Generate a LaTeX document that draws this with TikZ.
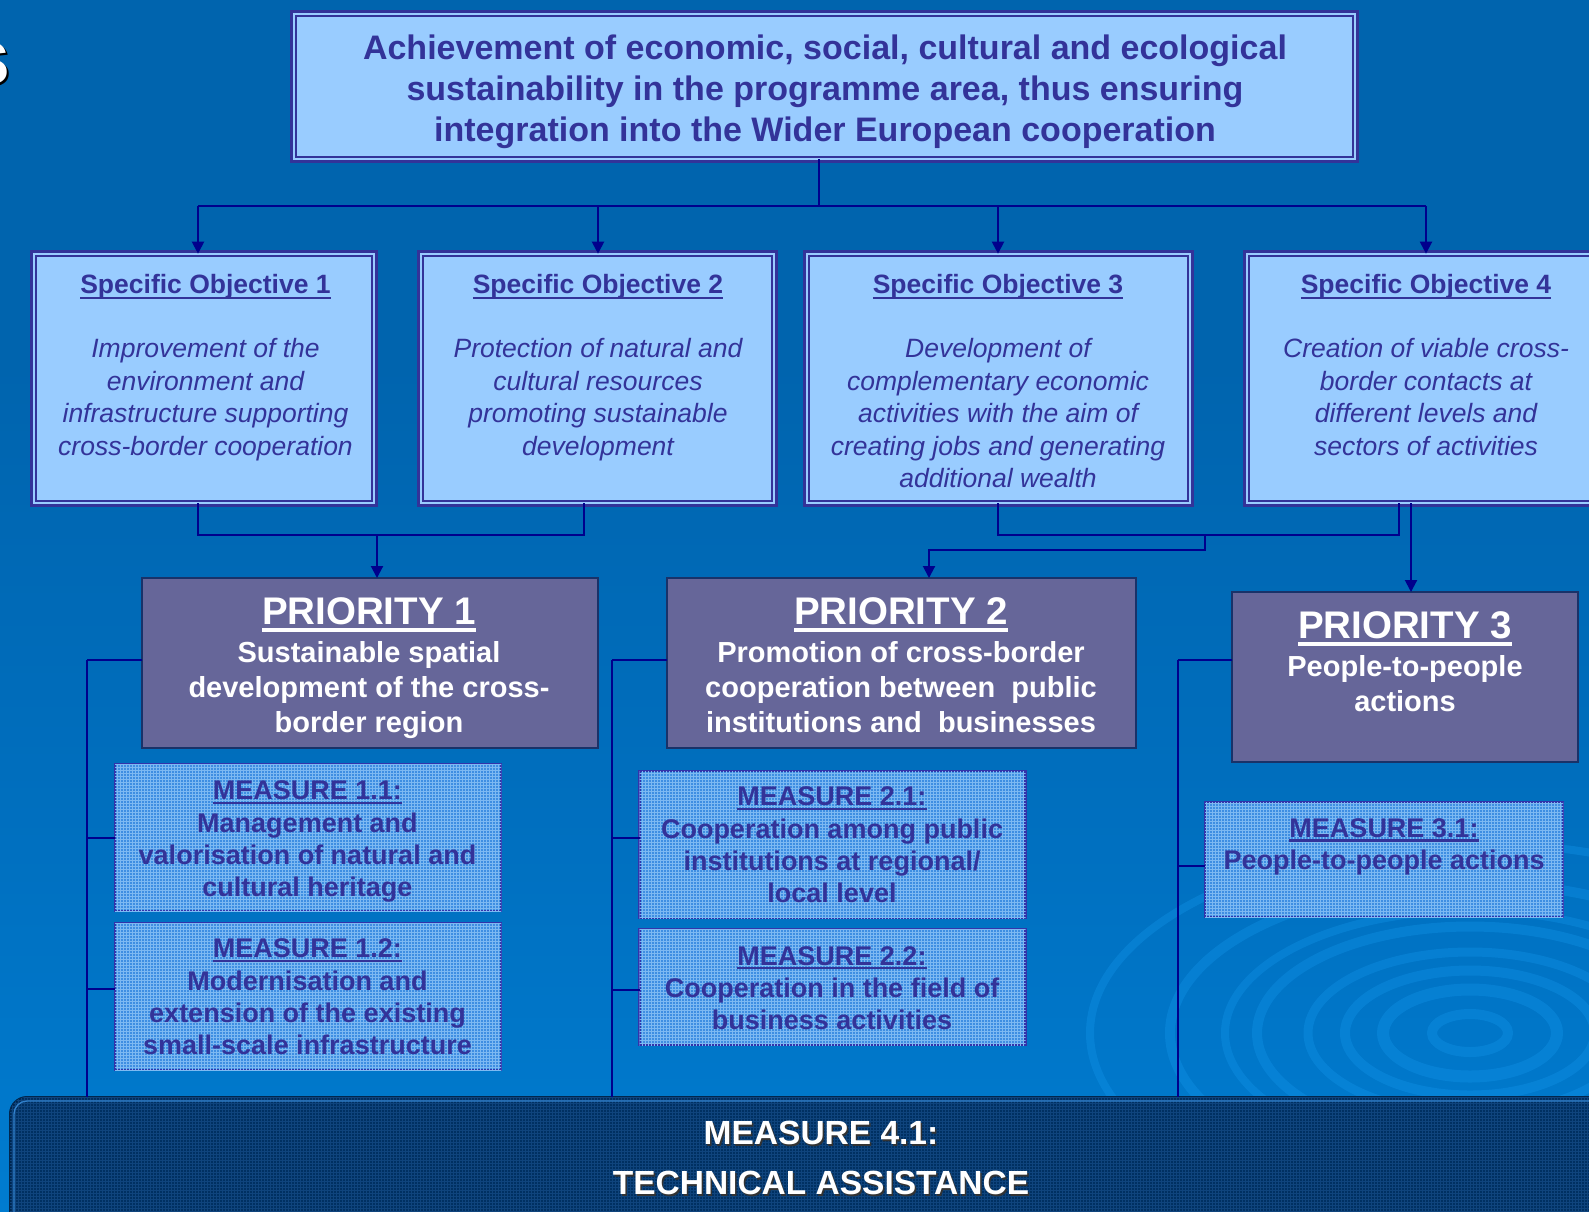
\documentclass[tikz,border=0pt]{standalone}
\usepackage{fontspec}
\setmainfont{Liberation Sans}
\usetikzlibrary{arrows.meta,patterns}
\definecolor{bgtop}{RGB}{0,100,174}
\definecolor{bgmid}{RGB}{0,112,192}
\definecolor{bgbot}{RGB}{0,134,222}
\definecolor{swirl}{RGB}{20,150,235}
\definecolor{bord}{RGB}{51,51,153}
\definecolor{sofill}{RGB}{153,204,255}
\definecolor{textc}{RGB}{51,51,153}
\definecolor{navy}{RGB}{0,0,140}
\definecolor{pfill}{RGB}{102,102,153}
\definecolor{pbord}{RGB}{25,50,105}
\definecolor{mfill}{RGB}{62,142,226}
\definecolor{mgrid}{RGB}{125,185,242}
\definecolor{mbord}{RGB}{51,51,170}
\definecolor{barfill}{RGB}{0,48,98}
\definecolor{bargrid}{RGB}{15,68,125}
\definecolor{barline}{RGB}{50,130,205}
\pgfdeclareverticalshading{bgshade}{100bp}{color(0bp)=(bgbot); color(12bp)=(bgbot); color(40bp)=(bgmid); color(60bp)=(bgtop); color(100bp)=(bgtop)}
\newcommand\myul[3]{\leavevmode\setbox0=\hbox{#3}\rlap{\vrule width\wd0 height -#1 depth \dimexpr#1+#2\relax}\box0}
\begin{document}
\begin{tikzpicture}[x=1pt,y=-1pt,
  sobox/.style={draw=bord, line width=2.6pt, double=sofill, double distance=2.2pt, fill=sofill, inner sep=0pt, outer sep=0pt, anchor=north west},
  pbox/.style={draw=pbord, line width=1.5pt, fill=pfill, inner sep=0pt, outer sep=0pt, anchor=north west},
  mbox/.style={draw=mbord, line width=2.2pt, fill=mfill, postaction={pattern=grid, pattern color=mgrid}, inner sep=0pt, outer sep=0pt, anchor=north west},
  toptext/.style={anchor=north, inner sep=0pt, align=center, text=textc, font=\fontsize{34}{41}\selectfont\bfseries},
  sotitle/.style={anchor=north, inner sep=0pt, align=center, text=textc, font=\fontsize{26.5}{32.4}\selectfont\bfseries},
  sobody/.style={anchor=north, inner sep=0pt, align=center, text=textc, font=\fontsize{26.5}{32.4}\selectfont\itshape},
  ptitle/.style={anchor=north, inner sep=0pt, align=center, text=white, font=\fontsize{38.5}{40}\selectfont\bfseries},
  pbody/.style={anchor=north, inner sep=0pt, align=center, text=white, font=\fontsize{29}{35}\selectfont\bfseries},
  mtext/.style={anchor=north, inner sep=0pt, align=center, text=textc, font=\fontsize{27}{32.2}\selectfont\bfseries},
  bartext/.style={anchor=north, inner sep=0pt, align=center, font=\fontsize{33.5}{50}\selectfont\bfseries},
  conn/.style={draw=navy, line width=2pt},
  arr/.style={conn, -{Triangle[length=12pt,width=12pt]}}]
\useasboundingbox (0,0) rectangle (1589,1211);
\clip (0,0) rectangle (1589,1211);
\shade[shading=bgshade] (0,0) rectangle (1589,1211);
% background swirls
\begin{scope}[swirl, opacity=0.35]
  \foreach \r/\w in {38/10, 87/12, 125/10, 162/9, 213/10, 245/8, 300/10, 380/8} {
    \draw[line width=\w pt] (1470,1033) ellipse [x radius=\r, y radius=0.5*\r];
  }
\end{scope}
% title fragment
\node[anchor=base east, inner sep=0pt, text=black, font=\fontsize{79}{80}\selectfont\bfseries] (fragsh) at (13,86.5) {s};
\node[anchor=base east, inner sep=0pt, text=white, font=\fontsize{79}{80}\selectfont\bfseries] (frag) at (10.5,84) {s};
% top box
\node[sobox, minimum width=1061.6pt, minimum height=145.6pt] (top) at (293.7,13.7) {};
\node[toptext] (toptx) at (825,34.4) {Achievement of economic, social, cultural and ecological\\sustainability in the programme area, thus ensuring\\integration into the Wider European cooperation};
% specific objectives
\node[sobox, minimum width=340.6pt, minimum height=249.6pt] (so1) at (33.7,253.7) {};
\node[sobox, minimum width=353.6pt, minimum height=249.6pt] (so2) at (420.7,253.7) {};
\node[sobox, minimum width=383.6pt, minimum height=249.6pt] (so3) at (806.7,253.7) {};
\node[sobox, minimum width=370pt, minimum height=249.6pt] (so4) at (1246.7,253.7) {};
\node[sotitle] (so1t) at (205.5,274.5) {\myul{2.6pt}{2.4pt}{Specific Objective 1}};
\node[sotitle] (so2t) at (598,274.5) {\myul{2.6pt}{2.4pt}{Specific Objective 2}};
\node[sotitle] (so3t) at (998,274.5) {\myul{2.6pt}{2.4pt}{Specific Objective 3}};
\node[sotitle] (so4t) at (1426,274.5) {\myul{2.6pt}{2.4pt}{Specific Objective 4}};
\node[sobody] (so1b) at (205.5,338.5) {Improvement of the\\environment and\\infrastructure supporting\\cross-border cooperation};
\node[sobody] (so2b) at (598,338.5) {Protection of natural and\\cultural resources\\promoting sustainable\\development};
\node[sobody] (so3b) at (998,338.5) {Development of\\complementary economic\\activities with the aim of\\creating jobs and generating\\additional wealth};
\node[sobody] (so4b) at (1426,338.5) {Creation of viable cross-\\border contacts at\\different levels and\\sectors of activities};
% priorities
\node[pbox, minimum width=456pt, minimum height=170pt] (p1) at (142,578) {};
\node[pbox, minimum width=469pt, minimum height=170pt] (p2) at (667,578) {};
\node[pbox, minimum width=346pt, minimum height=170pt] (p3) at (1232,592) {};
\node[ptitle] (p1t) at (369,597) {\myul{4.3pt}{3.3pt}{PRIORITY 1}};
\node[ptitle] (p2t) at (901,597) {\myul{4.3pt}{3.3pt}{PRIORITY 2}};
\node[ptitle] (p3t) at (1405,611) {\myul{4.3pt}{3.3pt}{PRIORITY 3}};
\node[pbody] (p1b) at (369,641.6) {Sustainable spatial\\development of the cross-\\border region};
\node[pbody] (p2b) at (901,641.6) {Promotion of cross-border\\cooperation between\ \ public\\institutions and\ \ businesses};
\node[pbody] (p3b) at (1405,655.6) {People-to-people\\actions};
% measures
\node[mbox, minimum width=386pt, minimum height=147pt] (m11) at (115,764) {};
\node[mbox, minimum width=386pt, minimum height=147pt] (m12) at (115,923) {};
\node[mbox, minimum width=386pt, minimum height=147pt] (m21) at (639.5,771) {};
\node[mbox, minimum width=386pt, minimum height=116pt] (m22) at (639.5,929) {};
\node[mbox, minimum width=358pt, minimum height=115pt] (m31) at (1205,802) {};
\node[mtext] (m11t) at (307.5,780.8) {\myul{2pt}{2.3pt}{MEASURE 1.1:}\\Management and\\valorisation of natural and\\cultural heritage};
\node[mtext] (m12t) at (307.5,938.8) {\myul{2pt}{2.3pt}{MEASURE 1.2:}\\Modernisation and\\extension of the existing\\small-scale infrastructure};
\node[mtext] (m21t) at (832,786.8) {\myul{2pt}{2.3pt}{MEASURE 2.1:}\\Cooperation among public\\institutions at regional/\\local level};
\node[mtext] (m22t) at (832,946) {\myul{2pt}{2.3pt}{MEASURE 2.2:}\\Cooperation in the field of\\business activities};
\node[mtext] (m31t) at (1384,818.3) {\myul{2pt}{2.3pt}{MEASURE 3.1:}\\People-to-people actions};
% bottom bar
\node[draw=barfill!80!black, line width=2pt, fill=barfill, postaction={pattern=grid, pattern color=bargrid}, rounded corners=17pt, inner sep=0pt, outer sep=0pt, anchor=north west, minimum width=1620pt, minimum height=150pt] (bar) at (10,1097) {};
\draw[barline, line width=1.3pt, rounded corners=13pt] ([shift={(4,4)}]bar.north west) rectangle ([shift={(-4,-4)}]bar.south east);
\node[bartext, text=black!80] (barsh) at (822.5,1122.5) {MEASURE 4.1:\\TECHNICAL ASSISTANCE};
\node[bartext, text=white] (bartx) at (821,1121) {MEASURE 4.1:\\TECHNICAL ASSISTANCE};
% connectors: top -> objectives
\coordinate (j0) at (819,206);
\coordinate (j1) at (198,206);
\coordinate (j2) at (598,206);
\coordinate (j3) at (998,206);
\coordinate (j4) at (1426,206);
\draw[conn] (top.south -| j0) -- (j0);
\draw[conn] (j1) -- (j4);
\draw[arr] (j1) -- (so1.north -| j1);
\draw[arr] (j2) -- (so2.north -| j2);
\draw[arr] (j3) -- (so3.north -| j3);
\draw[arr] (j4) -- (so4.north -| j4);
% objectives -> priority 1
\coordinate (a1) at (198,535);
\coordinate (a2) at (584,535);
\coordinate (a3) at (377,535);
\draw[conn] (so1.south -| a1) -- (a1) -- (a2) -- (so2.south -| a2);
\draw[arr] (a3) -- (p1.north -| a3);
% objectives -> priority 2
\coordinate (b1) at (998,535);
\coordinate (b2) at (1399,535);
\coordinate (b3) at (1205,535);
\coordinate (b4) at (1205,550);
\coordinate (b5) at (929,550);
\draw[conn] (so3.south -| b1) -- (b1) -- (b2) -- (so4.south -| b2);
\draw[arr] (b3) -- (b4) -- (b5) -- (p2.north -| b5);
% objective 4 -> priority 3
\coordinate (c1) at (1411,520);
\draw[arr] (so4.south -| c1) -- (p3.north -| c1);
% left branches
\coordinate (l1) at (87,660);
\coordinate (l2) at (87,838);
\coordinate (l3) at (87,989);
\draw[conn] (l1) -- (bar.north -| l1);
\draw[conn] (l1) -- (p1.west |- l1);
\draw[conn] (l2) -- (m11.west |- l2);
\draw[conn] (l3) -- (m12.west |- l3);
\coordinate (k1) at (612,660);
\coordinate (k2) at (612,838);
\coordinate (k3) at (612,990);
\draw[conn] (k1) -- (bar.north -| k1);
\draw[conn] (k1) -- (p2.west |- k1);
\draw[conn] (k2) -- (m21.west |- k2);
\draw[conn] (k3) -- (m22.west |- k3);
\coordinate (n1) at (1177.5,660);
\coordinate (n2) at (1177.5,866);
\draw[conn] (n1) -- (bar.north -| n1);
\draw[conn] (n1) -- (p3.west |- n1);
\draw[conn] (n2) -- (m31.west |- n2);
\end{tikzpicture}
\end{document}
